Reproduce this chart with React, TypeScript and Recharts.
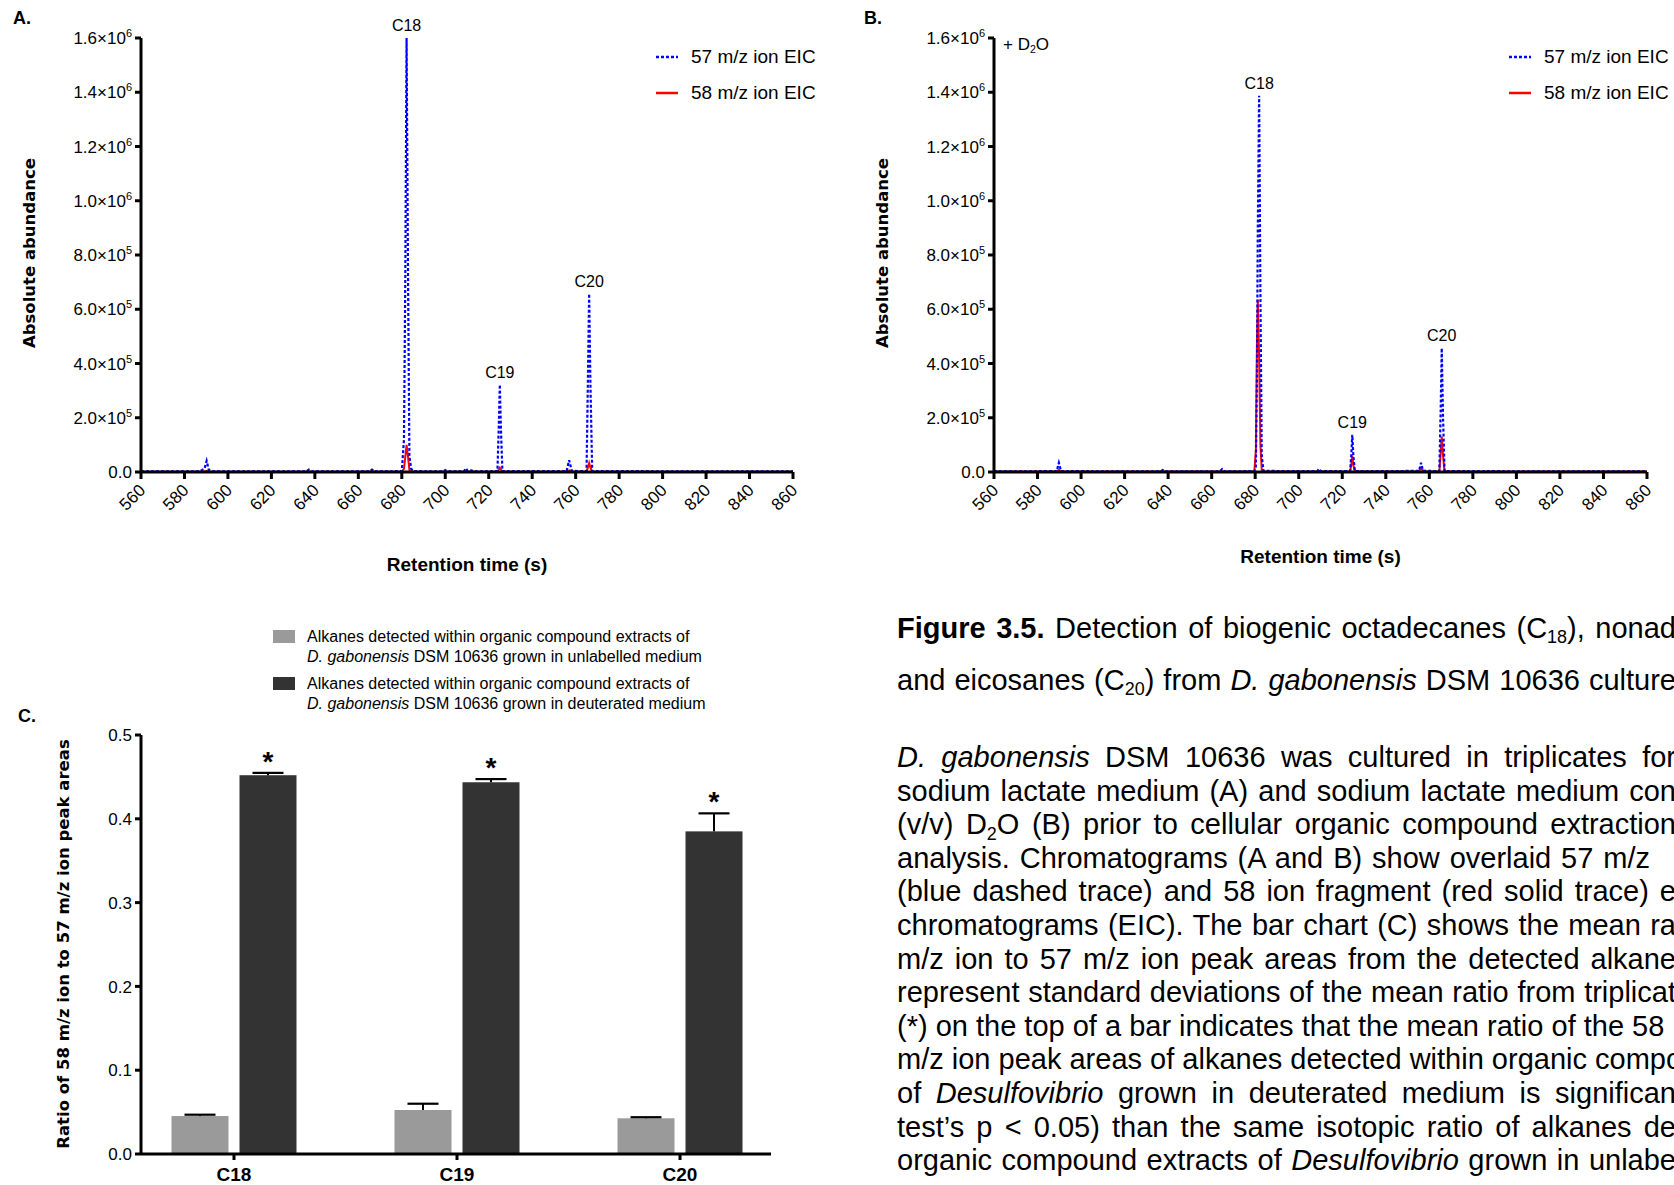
import React from 'react';
import { Bar, BarChart, LabelList, Line, LineChart, ReferenceDot, XAxis, YAxis } from 'recharts';

const FONT = "'Liberation Sans', Arial, Helvetica, sans-serif";
const WIDE_FONT = "'DejaVu Sans', Verdana, sans-serif";
const BLUE = '#0000ff';
const RED = '#ff0000';
const LIGHT = '#9a9a9a';
const DARK = '#333333';

// shared axes of the two chromatograms
const RT_TICKS = [560, 580, 600, 620, 640, 660, 680, 700, 720, 740, 760, 780, 800, 820, 840, 860];
const ABUNDANCE_TICKS = [0, 200000, 400000, 600000, 800000, 1000000, 1200000, 1400000, 1600000];

// A. unlabelled medium (retention time s, abundance)
const RT_A = [560, 587, 589.2, 590.2, 591.2, 593, 636, 637.2, 638.4, 665, 666.3, 667.6, 680, 681.0, 681.6, 682.2, 682.8, 683.5, 684.3, 685.5, 699.2, 700.0, 700.8, 708.6, 709.5, 710.3, 712, 713, 724.0, 724.6, 725.1, 725.6, 726.3, 755.8, 757.0, 758.2, 765.0, 765.6, 766.2, 766.8, 767.6, 860];
const ION57_A = [2500, 2500, 12000, 41000, 8000, 2500, 2500, 9000, 2500, 2500, 9000, 2500, 3000, 120000, 700000, 1600000, 800000, 60000, 12000, 3000, 2500, 7000, 2500, 2500, 14000, 4000, 6000, 2500, 3000, 160000, 322000, 160000, 3000, 3000, 43000, 4000, 3000, 320000, 657000, 320000, 3000, 2500];
const ION58_A = [1200, 1200, 2000, 4500, 1800, 1200, 1200, 2500, 1200, 1200, 2800, 1200, 1200, 12000, 55000, 100000, 60000, 8000, 2500, 1200, 1200, 1800, 1200, 1200, 3000, 1500, 1500, 1200, 1200, 9000, 16000, 9000, 1200, 1200, 6000, 1500, 1200, 16000, 33000, 16000, 1200, 1200];
const PEAKS_A = [
  { name: 'C18', rt: 682.2, top: 1600000 },
  { name: 'C19', rt: 725.1, top: 322000 },
  { name: 'C20', rt: 766.2, top: 657000 },
];

// B. + D2O
const RT_B = [560, 588.8, 589.8, 590.8, 636.5, 637.5, 638.5, 663.8, 664.8, 665.8, 679.6, 680.3, 680.8, 681.2, 681.8, 682.4, 683.0, 683.8, 708.5, 709.3, 710.1, 723.6, 724.2, 724.6, 725.1, 725.8, 755.3, 756.2, 757.1, 764.6, 765.2, 765.7, 766.3, 767.0, 860];
const ION57_B = [2500, 3000, 34000, 3000, 2500, 7000, 2500, 2500, 11000, 2500, 3000, 20000, 350000, 900000, 1387000, 650000, 60000, 4000, 3000, 12000, 3000, 3000, 70000, 137500, 60000, 3000, 4000, 34000, 5000, 3000, 220000, 457000, 200000, 3000, 2500];
const ION58_B = [1500, 1500, 8000, 1500, 1500, 3000, 1500, 1500, 3000, 1500, 2000, 80000, 480000, 635000, 420000, 100000, 8000, 2000, 1500, 4000, 1500, 2000, 30000, 60000, 25000, 2000, 2500, 15000, 3000, 2000, 65000, 131000, 60000, 2000, 1500];
const PEAKS_B = [
  { name: 'C18', rt: 681.8, top: 1387000 },
  { name: 'C19', rt: 724.6, top: 137500 },
  { name: 'C20', rt: 765.7, top: 457000 },
];

// C. ratio of 58 to 57 m/z peak areas
const ALKANES = ['C18', 'C19', 'C20'];
const UNLABELLED_MEAN = [0.0453, 0.0525, 0.0426];
const UNLABELLED_SD = [0.0016, 0.0075, 0.0013];
const DEUTERATED_MEAN = [0.452, 0.4436, 0.385];
const DEUTERATED_SD = [0.0028, 0.0038, 0.0215];
const SIGNIFICANT = ['*', '*', '*'];
const RATIO_TICKS = [0, 0.1, 0.2, 0.3, 0.4, 0.5];

const ION_SERIES = [
  { label: '57 m/z ion EIC', color: BLUE, dash: '3 2' },
  { label: '58 m/z ion EIC', color: RED, dash: undefined },
];

const axisStroke = { stroke: '#000', strokeWidth: 3 };

function AbundanceTick(props: any) {
  const { x, y, payload } = props;
  const v = payload.value as number;
  if (v === 0) {
    return (
      <text x={x} y={y} dy="0.36em" textAnchor="end" fontSize={17} fontFamily={FONT} fill="#000">
        0.0
      </text>
    );
  }
  const exp = Math.floor(Math.log10(v) + 1e-9);
  const mant = (v / Math.pow(10, exp)).toFixed(1);
  return (
    <text x={x} y={y} dy="0.36em" textAnchor="end" fontSize={17} fontFamily={FONT} fill="#000">
      {mant}×10
      <tspan dy={-7} fontSize={11}>
        {exp}
      </tspan>
    </text>
  );
}

function RtTick(props: any) {
  const { x, y, payload } = props;
  return (
    <g transform={`translate(${x + 1},${y + 8})`}>
      <text transform="rotate(-45)" textAnchor="end" dy="0.36em" fontSize={17} fontFamily={FONT} fill="#000">
        {payload.value}
      </text>
    </g>
  );
}

function Chromatogram({
  rt,
  ion57,
  ion58,
  peaks,
  width,
  rightMargin,
  titleOffset,
}: {
  rt: number[];
  ion57: number[];
  ion58: number[];
  peaks: { name: string; rt: number; top: number }[];
  width: number;
  rightMargin: number;
  titleOffset: number;
}) {
  const data = rt.map((t, i) => ({ rt: t, i57: ion57[i], i58: ion58[i] }));
  return (
    <LineChart width={width} height={600} data={data} margin={{ top: 38, right: rightMargin, bottom: 0, left: 0 }}>
      <XAxis
        type="number"
        dataKey="rt"
        domain={[560, 860]}
        ticks={RT_TICKS}
        interval={0}
        height={128}
        tickSize={7}
        tickMargin={0}
        axisLine={axisStroke}
        tickLine={axisStroke}
        tick={(p: any) => <RtTick {...p} />}
        label={{
          value: 'Retention time (s)',
          position: 'insideBottom',
          offset: titleOffset,
          fontSize: 19,
          fontWeight: 700,
          fontFamily: FONT,
          fill: '#000',
        }}
      />
      <YAxis
        type="number"
        domain={[0, 1600000]}
        ticks={ABUNDANCE_TICKS}
        interval={0}
        width={141}
        tickSize={6}
        tickMargin={3}
        axisLine={axisStroke}
        tickLine={axisStroke}
        tick={(p: any) => <AbundanceTick {...p} />}
      />
      <Line type="linear" dataKey="i58" stroke={RED} strokeWidth={2} dot={false} isAnimationActive={false} />
      <Line
        type="linear"
        dataKey="i57"
        stroke={BLUE}
        strokeWidth={2.2}
        strokeDasharray="3 2"
        dot={false}
        isAnimationActive={false}
      />
      {peaks.map((p) => (
        <ReferenceDot
          key={p.name}
          x={p.rt}
          y={p.top}
          r={1}
          fill="none"
          stroke="none"
          ifOverflow="visible"
          label={{ value: p.name, position: 'top', offset: 6, fontSize: 16, fontFamily: FONT, fill: '#000' }}
        />
      ))}
    </LineChart>
  );
}

function IonLegend({ left, top }: { left: number; top: number }) {
  return (
    <div style={{ position: 'absolute', left, top }}>
      {ION_SERIES.map((s) => (
        <div key={s.label} style={{ display: 'flex', alignItems: 'center', height: 36 }}>
          <svg width={22} height={6}>
            <line x1={0} x2={22} y1={3} y2={3} stroke={s.color} strokeWidth={2.5} strokeDasharray={s.dash} />
          </svg>
          <span style={{ marginLeft: 13, fontSize: 19, fontFamily: FONT, whiteSpace: 'nowrap' }}>{s.label}</span>
        </div>
      ))}
    </div>
  );
}

function VerticalTitle({ cx, cy, text }: { cx: number; cy: number; text: string }) {
  return (
    <div
      style={{
        position: 'absolute',
        left: cx,
        top: cy,
        transform: 'translate(-50%, -50%) rotate(-90deg)',
        whiteSpace: 'nowrap',
        fontFamily: WIDE_FONT,
        fontWeight: 700,
        fontSize: 16.5,
        lineHeight: '20px',
      }}
    >
      {text}
    </div>
  );
}

function PanelLetter({ left, cy, text }: { left: number; cy: number; text: string }) {
  return (
    <div style={{ position: 'absolute', left, top: cy - 11, lineHeight: '22px', fontSize: 18, fontWeight: 700, fontFamily: FONT }}>
      {text}
    </div>
  );
}

function RatioTick(props: any) {
  const { x, y, payload } = props;
  return (
    <text x={x} y={y} dy="0.36em" textAnchor="end" fontSize={17} fontFamily={FONT} fill="#000">
      {(payload.value as number).toFixed(1)}
    </text>
  );
}

function AlkaneTick(props: any) {
  const { x, y, payload } = props;
  return (
    <text x={x} y={y} dy="0.71em" textAnchor="middle" fontSize={19} fontWeight={700} fontFamily={FONT} fill="#000">
      {ALKANES[payload.value]}
    </text>
  );
}

// bar with an upward-only SD whisker, scaled from the bar's own height
function WhiskerBar(props: any) {
  const { x, y, width, height, fill, index, sd, mean } = props;
  const errPx = height > 0 ? (sd[index] / mean[index]) * height : 0;
  const cx = x + width / 2;
  const top = y - errPx;
  return (
    <g>
      <rect x={x} y={y} width={width} height={height} fill={fill} />
      <line x1={cx} x2={cx} y1={y} y2={top} stroke="#000" strokeWidth={2} />
      <line x1={cx - 15.5} x2={cx + 15.5} y1={top} y2={top} stroke="#000" strokeWidth={2.2} />
    </g>
  );
}

function Asterisk(props: any) {
  const { x, y, width, height, value, index } = props;
  const errPx = (DEUTERATED_SD[index] / DEUTERATED_MEAN[index]) * height;
  return (
    <text x={x + width / 2} y={y - errPx - 2} textAnchor="middle" fontSize={28} fontWeight={700} fontFamily={FONT} fill="#000">
      {value}
    </text>
  );
}

function RatioChart() {
  const data = ALKANES.map((name, i) => ({
    slot: i,
    name,
    unl: UNLABELLED_MEAN[i],
    deu: DEUTERATED_MEAN[i],
    mark: SIGNIFICANT[i],
  }));
  return (
    <BarChart width={840} height={495} data={data} margin={{ top: 45, right: 69, bottom: 0, left: 0 }} barSize={57} barGap={11}>
      <XAxis
        type="number"
        dataKey="slot"
        domain={[-0.417, 2.408]}
        ticks={[0, 1, 2]}
        interval={0}
        height={31}
        tickSize={6}
        tickMargin={8}
        axisLine={axisStroke}
        tickLine={axisStroke}
        tick={(p: any) => <AlkaneTick {...p} />}
      />
      <YAxis
        type="number"
        domain={[0, 0.5]}
        ticks={RATIO_TICKS}
        interval={0}
        width={141}
        tickSize={6}
        tickMargin={3}
        axisLine={axisStroke}
        tickLine={axisStroke}
        tick={(p: any) => <RatioTick {...p} />}
      />
      <Bar
        dataKey="unl"
        fill={LIGHT}
        isAnimationActive={false}
        shape={(p: any) => <WhiskerBar {...p} sd={UNLABELLED_SD} mean={UNLABELLED_MEAN} />}
      />
      <Bar
        dataKey="deu"
        fill={DARK}
        isAnimationActive={false}
        shape={(p: any) => <WhiskerBar {...p} sd={DEUTERATED_SD} mean={DEUTERATED_MEAN} />}
      >
        <LabelList dataKey="mark" content={(p: any) => <Asterisk {...p} />} />
      </Bar>
    </BarChart>
  );
}

const sub = (t: string) => (
  <span style={{ fontSize: '0.62em', position: 'relative', top: '0.3em' }}>{t}</span>
);

const CAPTION = [
  { y: 628, w: 779, node: <><b>Figure 3.5.</b> Detection of biogenic octadecanes (C{sub('18')}), nonad</> },
  { y: 680, w: 779, node: <>and eicosanes (C{sub('20')}) from <i>D. gabonensis</i> DSM 10636 culture</> },
  { y: 757, w: 779, node: <><i>D. gabonensis</i> DSM 10636 was cultured in triplicates for</> },
  { y: 790.6, w: 779, node: <>sodium lactate medium (A) and sodium lactate medium con</> },
  { y: 824.2, w: 779, node: <>(v/v) D{sub('2')}O (B) prior to cellular organic compound extraction</> },
  { y: 857.8, w: 753, node: <>analysis. Chromatograms (A and B) show overlaid 57 m/z</> },
  { y: 891.4, w: 779, node: <>(blue dashed trace) and 58 ion fragment (red solid trace) e</> },
  { y: 925, w: 779, node: <>chromatograms (EIC). The bar chart (C) shows the mean ra</> },
  { y: 958.6, w: 779, node: <>m/z ion to 57 m/z ion peak areas from the detected alkane</> },
  { y: 992.2, w: 779, node: <>represent standard deviations of the mean ratio from triplicat</> },
  { y: 1025.8, w: 751, node: <>(*) on the top of a bar indicates that the mean ratio of the 58</> },
  { y: 1059.4, w: 779, node: <>m/z ion peak areas of alkanes detected within organic compo</> },
  { y: 1093, w: 779, node: <>of <i>Desulfovibrio</i> grown in deuterated medium is significan</> },
  { y: 1126.6, w: 779, node: <>test’s p &lt; 0.05) than the same isotopic ratio of alkanes de</> },
  { y: 1160.2, w: 779, node: <>organic compound extracts of <i>Desulfovibrio</i> grown in unlabe</> },
];

function Caption() {
  return (
    <>
      {CAPTION.map((l, i) => (
        <div
          key={i}
          style={{
            position: 'absolute',
            left: 897,
            top: l.y - 17,
            width: l.w,
            height: 34,
            lineHeight: '34px',
            fontSize: 29,
            fontFamily: FONT,
            whiteSpace: 'nowrap',
            textAlign: 'justify',
            textAlignLast: 'justify',
          }}
        >
          {l.node}
        </div>
      ))}
    </>
  );
}

function RatioLegend() {
  const items = [
    { color: LIGHT, top: 630, medium: 'unlabelled medium' },
    { color: DARK, top: 677, medium: 'deuterated medium' },
  ];
  return (
    <>
      {items.map((it) => (
        <React.Fragment key={it.medium}>
          <div style={{ position: 'absolute', left: 273, top: it.top, width: 22, height: 13, background: it.color }} />
          <div style={{ position: 'absolute', left: 307, top: it.top - 3, fontSize: 16, lineHeight: '20px', fontFamily: FONT, whiteSpace: 'nowrap' }}>
            Alkanes detected within organic compound extracts of
            <br />
            <i>D. gabonensis</i> DSM 10636 grown in {it.medium}
          </div>
        </React.Fragment>
      ))}
    </>
  );
}

export default function App() {
  return (
    <div
      style={{
        position: 'absolute',
        left: 0,
        top: 0,
        width: 1674,
        height: 1185,
        overflow: 'hidden',
        background: '#fff',
        fontFamily: FONT,
        color: '#000',
      }}
    >
      <div style={{ position: 'absolute', left: 0, top: 0 }}>
        <Chromatogram rt={RT_A} ion57={ION57_A} ion58={ION58_A} peaks={PEAKS_A} width={840} rightMargin={47} titleOffset={29} />
      </div>
      <div style={{ position: 'absolute', left: 853, top: 0 }}>
        <Chromatogram rt={RT_B} ion57={ION57_B} ion58={ION58_B} peaks={PEAKS_B} width={821} rightMargin={27} titleOffset={37} />
      </div>
      <div style={{ position: 'absolute', left: 0, top: 690 }}>
        <RatioChart />
      </div>

      <PanelLetter left={13} cy={18} text="A." />
      <PanelLetter left={864} cy={18} text="B." />
      <PanelLetter left={18} cy={716} text="C." />

      <VerticalTitle cx={30} cy={253} text="Absolute abundance" />
      <VerticalTitle cx={883} cy={253} text="Absolute abundance" />
      <VerticalTitle cx={64} cy={944} text="Ratio of 58 m/z ion to 57 m/z ion peak areas" />

      <IonLegend left={656} top={39} />
      <IonLegend left={1509} top={39} />

      <div style={{ position: 'absolute', left: 1003, top: 34, fontSize: 17, lineHeight: '22px', fontFamily: FONT, whiteSpace: 'nowrap' }}>
        + D{sub('2')}O
      </div>

      <RatioLegend />
      <Caption />
    </div>
  );
}
